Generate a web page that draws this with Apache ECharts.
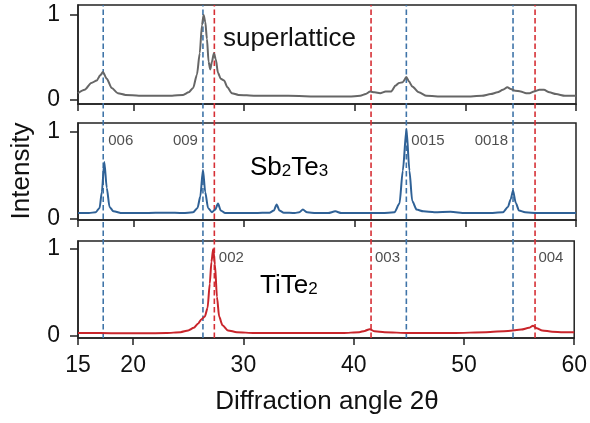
<!DOCTYPE html>
<html><head><meta charset="utf-8">
<script src="https://cdn.jsdelivr.net/npm/echarts@6/dist/echarts.min.js"></script>
<style>html,body{margin:0;padding:0;background:#fff}#c{width:590px;height:423px}</style>
</head><body><div id="c"></div>
<script>
// ---- data (angle 2θ, normalised intensity) ----
const superlattice = [[15,0.08],[15.6,0.12],[16.2,0.2],[16.7,0.23],[17.0,0.29],[17.25,0.33],[17.6,0.25],[18.05,0.14],[18.6,0.08],[19.3,0.06],[20.5,0.05],[22,0.05],[23.5,0.05],[24.5,0.06],[25.0,0.09],[25.4,0.14],[25.75,0.3],[26.0,0.55],[26.2,0.88],[26.35,1.0],[26.5,0.92],[26.65,0.72],[26.8,0.45],[26.95,0.36],[27.1,0.45],[27.28,0.55],[27.45,0.48],[27.65,0.32],[27.9,0.25],[28.2,0.23],[28.5,0.15],[28.9,0.08],[29.5,0.06],[31,0.05],[34,0.05],[37,0.04],[39.5,0.04],[40.5,0.05],[41.0,0.07],[41.4,0.1],[41.8,0.09],[42.3,0.08],[42.8,0.1],[43.3,0.1],[43.7,0.17],[44.0,0.2],[44.35,0.21],[44.67,0.27],[44.9,0.22],[45.2,0.16],[45.8,0.09],[46.5,0.05],[48,0.04],[50,0.04],[51.5,0.05],[52.3,0.07],[52.9,0.09],[53.4,0.12],[53.8,0.15],[54.1,0.13],[54.5,0.11],[55.0,0.1],[55.5,0.08],[55.8,0.08],[56.2,0.1],[56.7,0.12],[57.1,0.12],[57.6,0.09],[58.2,0.07],[59,0.05],[60,0.05]];
const sb2te3 = [[15,0.06],[16,0.06],[16.6,0.07],[16.95,0.12],[17.15,0.3],[17.38,0.65],[17.6,0.35],[17.85,0.13],[18.2,0.08],[19,0.06],[21,0.06],[23,0.065],[24.5,0.06],[25.4,0.07],[25.8,0.12],[26.05,0.25],[26.29,0.56],[26.5,0.3],[26.75,0.12],[27.1,0.07],[27.4,0.1],[27.65,0.17],[27.9,0.09],[28.3,0.06],[29.5,0.06],[31,0.06],[32.3,0.065],[32.7,0.09],[32.95,0.16],[33.2,0.09],[33.6,0.065],[34.6,0.06],[35.0,0.07],[35.32,0.1],[35.7,0.07],[36.5,0.06],[37.6,0.06],[38.25,0.08],[38.8,0.06],[40.5,0.06],[42.5,0.06],[43.6,0.07],[44.05,0.17],[44.35,0.55],[44.68,1.03],[44.95,0.55],[45.2,0.2],[45.6,0.1],[46.2,0.08],[47.2,0.07],[48.66,0.075],[50,0.06],[52,0.06],[53.4,0.07],[53.85,0.13],[54.1,0.22],[54.31,0.32],[54.55,0.18],[54.85,0.09],[55.4,0.07],[56.5,0.06],[58,0.06],[60,0.06]];
const tite2 = [[15,0.03],[17,0.03],[19,0.028],[21,0.028],[23,0.03],[24.3,0.04],[25.0,0.06],[25.5,0.09],[25.9,0.14],[26.2,0.19],[26.5,0.22],[26.75,0.32],[26.95,0.6],[27.1,0.85],[27.26,1.0],[27.42,0.82],[27.6,0.45],[27.8,0.22],[28.1,0.12],[28.6,0.06],[29.4,0.04],[31,0.03],[35,0.03],[39,0.03],[40.5,0.04],[41.0,0.055],[41.45,0.075],[41.9,0.05],[42.8,0.04],[45,0.03],[49,0.03],[52,0.04],[54,0.055],[55.2,0.07],[55.9,0.09],[56.27,0.115],[56.6,0.085],[57.1,0.06],[58,0.045],[59,0.04],[60,0.04]];
const xTicks = [15, 20, 30, 40, 50, 60];
const yTicks = [0, 1];
const sbRefAngles = [17.28, 26.29, 44.67, 54.31];
const sbRefLabels = ['006', '009', '0015', '0018'];
const tiRefAngles = [27.32, 41.48, 56.3];
const tiRefLabels = ['002', '003', '004'];

// ---- layout / style ----
const FONT = 'Liberation Sans, Arial, sans-serif';
const BLUE_LINE = '#3f74a8', RED_LINE = '#d62f35';
const panels = [
  {top: 5, height: 99, min: -0.047, max: 1.118, data: superlattice, color: '#666666'},
  {top: 123, height: 97, min: -0.02, max: 1.1, data: sb2te3, color: '#2f6196'},
  {top: 241, height: 97, min: -0.027, max: 1.092, data: tite2, color: '#c9252b'}
];
const LEFT = 78, WIDTH = 498;

const grid = panels.map(p => ({left: LEFT, width: WIDTH, top: p.top, height: p.height, show: true, borderColor: '#222', borderWidth: 1.5, backgroundColor: 'transparent'}));
grid.push({left: LEFT, width: WIDTH, top: 5, height: 333, show: false});

const xAxis = panels.map((p, i) => ({
  gridIndex: i, type: 'value', min: 15, max: 60,
  axisLine: {show: true, onZero: false, lineStyle: {color: '#222', width: 1.5}},
  axisTick: {show: true, customValues: xTicks, length: 7, lineStyle: {color: '#222', width: 1.5}},
  axisLabel: {show: i === 2, customValues: xTicks, margin: 16, fontSize: 23, color: '#111', fontFamily: FONT},
  splitLine: {show: false}
}));
xAxis.push({gridIndex: 3, type: 'value', min: 15, max: 60, show: false});

const yAxis = panels.map((p, i) => ({
  gridIndex: i, type: 'value', min: p.min, max: p.max,
  axisLine: {show: true, onZero: false, lineStyle: {color: '#222', width: 1.5}},
  axisTick: {show: true, customValues: yTicks, length: 8, lineStyle: {color: '#222', width: 1.5}},
  axisLabel: {customValues: yTicks, margin: 18, fontSize: 23, color: '#111', fontFamily: FONT},
  splitLine: {show: false}
}));
yAxis.push({gridIndex: 3, type: 'value', min: 0, max: 1, show: false});

const series = [];
sbRefAngles.forEach(a => series.push({type: 'line', xAxisIndex: 3, yAxisIndex: 3, data: [[a, 0], [a, 1]], showSymbol: false, silent: true, z: 1, lineStyle: {color: BLUE_LINE, width: 1.6, type: [5.5, 3]}}));
tiRefAngles.forEach(a => series.push({type: 'line', xAxisIndex: 3, yAxisIndex: 3, data: [[a, 0], [a, 1]], showSymbol: false, silent: true, z: 1, lineStyle: {color: RED_LINE, width: 1.6, type: [5.5, 3]}}));
panels.forEach((p, i) => series.push({type: 'line', xAxisIndex: i, yAxisIndex: i, data: p.data, showSymbol: false, smooth: 0.25, smoothMonotone: 'x', z: 3, lineStyle: {color: p.color, width: 2}}));

const sbSide = ['right', 'left', 'right', 'left'];
series.push({type: 'scatter', xAxisIndex: 1, yAxisIndex: 1, symbolSize: 0, silent: true, z: 4,
  data: sbRefAngles.map((a, k) => ({name: sbRefLabels[k], value: [a, 0.89], label: {position: sbSide[k]}})),
  label: {show: true, formatter: '{b}', distance: 5, fontSize: 15, color: '#222', fontFamily: FONT}});
series.push({type: 'scatter', xAxisIndex: 2, yAxisIndex: 2, symbolSize: 0, silent: true, z: 4,
  data: tiRefAngles.map((a, k) => ({name: tiRefLabels[k], value: [a, 0.9]})),
  label: {show: true, position: 'right', formatter: '{b}', distance: 5, fontSize: 15, color: '#222', fontFamily: FONT}});

const big = {fontSize: 26, fontFamily: FONT, color: '#111'};
const sub = {fontSize: 17, fontFamily: FONT, color: '#111', verticalAlign: 'bottom', padding: [0, 0, 1, 0]};
const graphic = [
  {type: 'text', x: 223, y: 39, style: {text: 'superlattice', font: '26px ' + FONT, fill: '#111', align: 'left', verticalAlign: 'middle'}},
  {type: 'text', x: 250, y: 168, style: {text: '{n|Sb}{s|2}{n|Te}{s|3}', rich: {n: big, s: sub}, align: 'left', verticalAlign: 'middle'}},
  {type: 'text', x: 260, y: 286, style: {text: '{n|TiTe}{s|2}', rich: {n: big, s: sub}, align: 'left', verticalAlign: 'middle'}},
  {type: 'text', x: 22, y: 171, rotation: Math.PI / 2, style: {text: 'Intensity', font: '26px ' + FONT, fill: '#111', align: 'center', verticalAlign: 'middle'}},
  {type: 'text', x: 327, y: 402, style: {text: 'Diffraction angle 2θ', font: '26px ' + FONT, fill: '#111', align: 'center', verticalAlign: 'middle'}}
];

const chart = echarts.init(document.getElementById('c'), null, {renderer: 'canvas'});
chart.setOption({animation: false, backgroundColor: '#fff', grid, xAxis, yAxis, series, graphic});
</script></body></html>
